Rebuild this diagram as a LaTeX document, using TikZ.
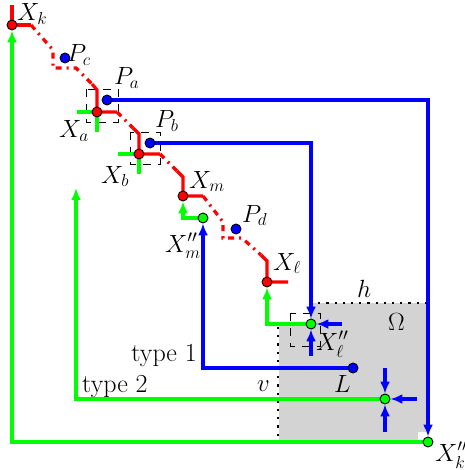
\documentclass[tikz,border=0pt]{standalone}
\usepackage{amsmath,amssymb}
\usepackage{xcolor}
\usepackage{tikz}
\usetikzlibrary{positioning,arrows.meta,backgrounds}
\definecolor{rred}{RGB}{255,0,0}
\definecolor{ggreen}{RGB}{0,255,0}
\definecolor{bblue}{RGB}{0,0,255}
\definecolor{lgray}{RGB}{211,211,211}
\tikzset{
  xpt/.style={circle, draw=black, line width=0.9pt, fill=rred, inner sep=0pt, minimum size=10pt},
  ppt/.style={xpt, fill=bblue},
  gpt/.style={xpt, fill=ggreen},
  Re/.style={rred, line width=3.2pt},
  Rd/.style={Re, dash pattern=on 6pt off 5pt on 2pt off 5pt},
  Ge/.style={ggreen, line width=3.2pt},
  Be/.style={bblue, line width=3.2pt},
  Ga/.style={Ge, -{Latex[length=12pt,width=10pt]}},
  Ba/.style={Be, -{Latex[length=12pt,width=10pt]}},
  bx/.style={black, thin, dash pattern=on 8pt off 7pt},
  bd/.style={black, line width=2.2pt, dash pattern=on 2.2pt off 6pt},
  lbl/.style={font=\fontsize{26}{30}\selectfont, inner sep=1pt},
  staircase/.style={x=1pt, y=-1pt}
}

\begin{document}
\begin{tikzpicture}[staircase]
  \useasboundingbox (0,0) rectangle (464,470);
  % points of the staircase
  \node[xpt] (Xk) at (12,25) {};
  \node[xpt] (Xa) at (97,112) {};
  \node[xpt] (Xb) at (139,154) {};
  \node[xpt] (Xm) at (183,196) {};
  \node[xpt] (Xl) at (267,282) {};
  \node[ppt] (Pc) at (65,58) {};
  \node[ppt] (Pa) at (107,100) {};
  \node[ppt] (Pb) at (150,143) {};
  \node[ppt] (Pd) at (236,229) {};
  \node[ppt] (L) at (353,368) {};
  \node[gpt] (Xmpp) at (203,218) {};
  \node[gpt] (Xlpp) at (311,324) {};
  \node[gpt] (Q) at (385,399) {};
  \node[gpt] (Xkpp) at (428,442) {};
  \coordinate (t2) at (76,188);
  \coordinate (xlr) at (342,324);
  \coordinate (xlb) at (311,356);
  \coordinate (qt) at (385,368);
  \coordinate (qr) at (417,399);
  \coordinate (qb) at (385,432);
  % labels
  \node[lbl, anchor=base west] at (16,21) {$X_k$};
  \node[lbl, anchor=base west] at (66,62) {$P_c$};
  \node[lbl, anchor=base west] at (113,85) {$P_a$};
  \node[lbl, anchor=base west] at (58,138) {$X_a$};
  \node[lbl, anchor=base west] at (154,128) {$P_b$};
  \node[lbl, anchor=base west] at (100,183) {$X_b$};
  \node[lbl, anchor=base west] at (188,188) {$X_m$};
  \node[lbl, anchor=base west] at (164,252) {$X''_m$};
  \node[lbl, anchor=base west] at (241,222) {$P_d$};
  \node[lbl, anchor=base west] at (272,270) {$X_\ell$};
  \node[lbl, anchor=base west] at (356,297) {$h$};
  \node[lbl, anchor=base west] at (387,330) {$\Omega$};
  \node[lbl, anchor=base west] at (315,350) {$X''_\ell$};
  \node[lbl, anchor=base west] at (333,392) {$L$};
  \node[lbl, anchor=base west] at (256,391) {$v$};
  \node[lbl, anchor=base east] at (198,361) {type 1};
  \node[lbl, anchor=base west] at (81,392) {type 2};
  \node[lbl, anchor=base west] at (434,461) {$X''_k$};
  \begin{pgfonlayer}{background}
    % region Omega
    \fill[lgray] (310,303) -- (428,303) -- (428,432) -- (418,432) -- (418,442)
      -- (279,442) -- (279,325) -- (310,325) -- cycle;
    \draw[bd] (310,303) -- (428,303);
    \draw[bd] (278,327) -- (278,442);
    \draw[bx] (86,89) rectangle (118,122);
    \draw[bx] (130,132) rectangle (160,164);
    \draw[bx] (290,313) rectangle (320,346);
    % blue paths
    \draw[Ba] (Pa) -| (Xkpp);
    \draw[Ba] (Pb) -| (Xlpp);
    \draw[Ba] (L) -| (Xmpp);
    \draw[Ba] (xlr) -- (Xlpp);
    \draw[Ba] (xlb) -- (Xlpp);
    \draw[Ba] (qt) -- (Q);
    \draw[Ba] (qr) -- (Q);
    \draw[Ba] (qb) -- (Q);
    % green paths
    \draw[Ga] (Xkpp) -| (Xk);
    \draw[Ga] (Q) -| (t2);
    \draw[Ga] (Xmpp) -| (Xm);
    \draw[Ga] (Xlpp) -| (Xl);
    \draw[Ge] (77,112) -- (Xa.center) -- (97,132);
    \draw[Ge] (118,154) -- (Xb.center) -- (139,174);
    % red staircase
    \draw[Re] (12,5) -- (Xk.center) -- (31,25);
    \draw[Rd] (31,25) -- (53,50) -- (53,68) -- (76,68) -- (92,84);
    \draw[Re] (92,84) -- (97,90) -- (Xa.center) -- (117,112);
    \draw[Rd] (117,112) -- (133,128);
    \draw[Re] (133,128) -- (139,134) -- (Xb.center) -- (160,154);
    \draw[Rd] (160,154) -- (177,171);
    \draw[Re] (177,171) -- (183,177) -- (Xm.center) -- (203,196);
    \draw[Rd] (203,196) -- (223,222) -- (223,238) -- (242,238) -- (261,255);
    \draw[Re] (261,255) -- (267,261) -- (Xl.center) -- (288,282);
  \end{pgfonlayer}
\end{tikzpicture}
\end{document}
